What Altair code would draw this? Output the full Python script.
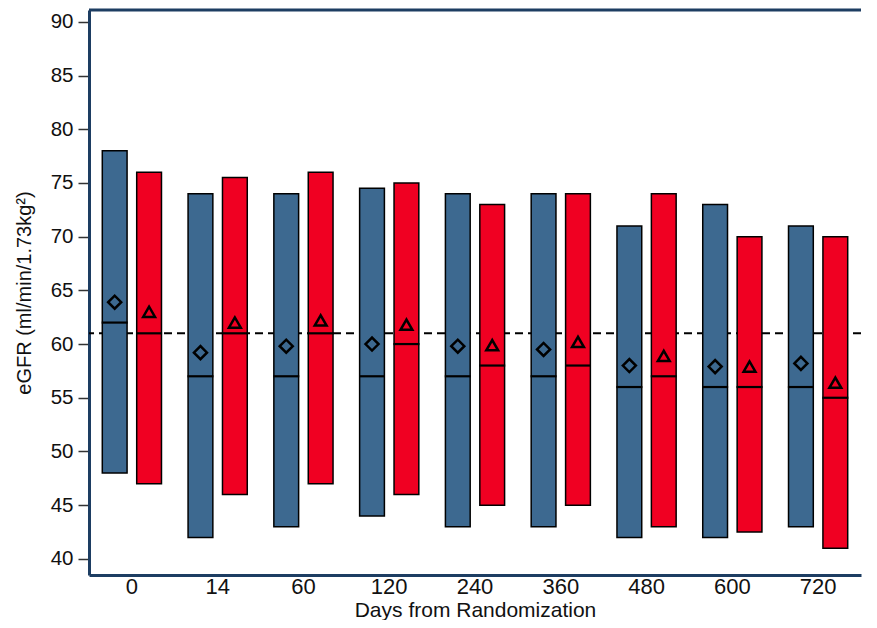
import altair as alt
import pandas as pd

days = ["0", "14", "60", "120", "240", "360", "480", "600", "720"]
groups = ["A", "B"]

blue_top = [78, 74, 74, 74.5, 74, 74, 71, 73, 71]
blue_bot = [48, 42, 43, 44, 43, 43, 42, 42, 43]
blue_med = [62, 57, 57, 57, 57, 57, 56, 56, 56]
blue_mean = [63.9, 59.2, 59.8, 60.0, 59.8, 59.5, 58.0, 57.9, 58.2]

red_top = [76, 75.5, 76, 75, 73, 74, 74, 70, 70]
red_bot = [47, 46, 47, 46, 45, 45, 43, 42.5, 41]
red_med = [61, 61, 61, 60, 58, 58, 57, 56, 55]
red_mean = [63.0, 62.0, 62.2, 61.8, 59.9, 60.2, 58.9, 57.9, 56.4]

ref_value = 61

rows = []
for i, d in enumerate(days):
    rows.append(dict(day=d, group="A", top=blue_top[i], bot=blue_bot[i], med=blue_med[i], mean=blue_mean[i]))
    rows.append(dict(day=d, group="B", top=red_top[i], bot=red_bot[i], med=red_med[i], mean=red_mean[i]))
df = pd.DataFrame(rows)

W = 772
H = 565
FRAME = "#1d3d62"
BLUE = "#3d6990"
RED = "#f00022"
FONT = "Liberation Sans"
YTITLE = "eGFR (ml/min/1.73kg²)"

x = alt.X("day:N", sort=days, title="Days from Randomization",
          scale=alt.Scale(paddingInner=0.31, paddingOuter=0.155),
          axis=alt.Axis(labelAngle=0, ticks=False, domainColor=FRAME, domainWidth=3,
                        labelFont=FONT, labelFontSize=22, labelColor="#111",
                        labelPadding=1, titleFont=FONT, titleFontSize=21,
                        titleFontWeight="normal", titleColor="#111", titlePadding=2))
xoff = alt.XOffset("group:N", sort=groups, scale=alt.Scale(paddingInner=0.28, paddingOuter=0))
yscale = alt.Scale(domain=[38.5, 91.1], nice=False, zero=False)
y_axis = alt.Axis(values=list(range(40, 95, 5)), grid=False, domainColor=FRAME, domainWidth=3,
                  tickColor="#333", tickSize=11, tickWidth=1.5, labelFont=FONT, labelFontSize=20.5,
                  labelColor="#111", labelPadding=5, titleFont=FONT, titleFontSize=20,
                  titleFontWeight="normal", titleColor="#111", titlePadding=16)
color = alt.Color("group:N", scale=alt.Scale(domain=groups, range=[BLUE, RED]), legend=None)

base = alt.Chart(df)

ref_line = alt.Chart(pd.DataFrame({"v": [ref_value]})).mark_rule(
    color="black", strokeWidth=2, strokeDash=[8, 5]
).encode(y=alt.Y("v:Q", scale=yscale, axis=y_axis, title=YTITLE))

top_border = alt.Chart(pd.DataFrame({"v": [ref_value]})).mark_rule(
    color=FRAME, strokeWidth=3
).encode(y=alt.value(0), x=alt.value(0), x2=alt.value(W))

bars = base.mark_bar(stroke="black", strokeWidth=1.5, opacity=1).encode(
    x=x, xOffset=xoff,
    y=alt.Y("top:Q", scale=yscale, axis=y_axis, title=YTITLE),
    y2="bot:Q", color=color)

med = base.mark_tick(color="black", thickness=2.2, size=26, opacity=1).encode(
    x=x, xOffset=xoff, y=alt.Y("med:Q", scale=yscale, axis=y_axis, title=YTITLE))

pts = base.mark_point(filled=False, color="black", strokeWidth=2.5, opacity=1).encode(
    x=x, xOffset=xoff, y=alt.Y("mean:Q", scale=yscale, axis=y_axis, title=YTITLE),
    shape=alt.Shape("group:N", scale=alt.Scale(domain=groups, range=["diamond", "triangle-up"]), legend=None),
    size=alt.Size("group:N", scale=alt.Scale(domain=groups, range=[170, 140]), legend=None))

chart = alt.layer(ref_line, bars, med, pts, top_border).properties(
    width=W, height=H, padding={"left": 6, "top": 0, "right": 0, "bottom": 0}
).configure(background="white").configure_view(strokeOpacity=0, strokeWidth=0)

chart.save("out.html", embed_options={"renderer": "svg", "actions": False})
